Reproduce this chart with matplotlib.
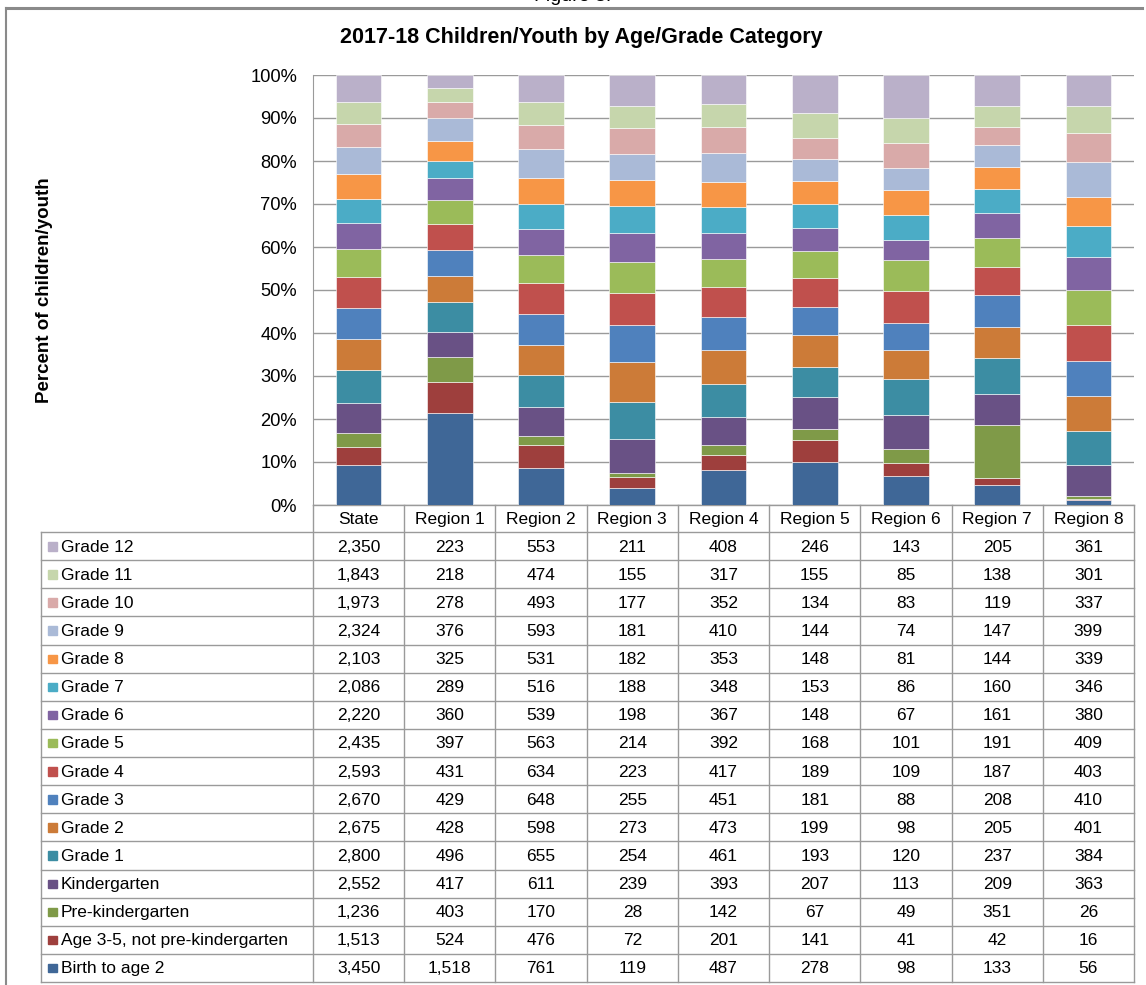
import numpy as np
import matplotlib
matplotlib.use('Agg')
from matplotlib import pyplot as plt
from matplotlib.patches import Rectangle

plt.rcParams['font.family'] = ['Liberation Sans', 'DejaVu Sans']

# Categories, bottom of the stack first
categories = ['Birth to age 2', 'Age 3-5, not pre-kindergarten', 'Pre-kindergarten',
              'Kindergarten', 'Grade 1', 'Grade 2', 'Grade 3', 'Grade 4', 'Grade 5',
              'Grade 6', 'Grade 7', 'Grade 8', 'Grade 9', 'Grade 10', 'Grade 11', 'Grade 12']
columns = ['State', 'Region 1', 'Region 2', 'Region 3', 'Region 4',
           'Region 5', 'Region 6', 'Region 7', 'Region 8']

# Counts per column, same order as categories
state = [3450, 1513, 1236, 2552, 2800, 2675, 2670, 2593, 2435, 2220, 2086, 2103, 2324, 1973, 1843, 2350]
region1 = [1518, 524, 403, 417, 496, 428, 429, 431, 397, 360, 289, 325, 376, 278, 218, 223]
region2 = [761, 476, 170, 611, 655, 598, 648, 634, 563, 539, 516, 531, 593, 493, 474, 553]
region3 = [119, 72, 28, 239, 254, 273, 255, 223, 214, 198, 188, 182, 181, 177, 155, 211]
region4 = [487, 201, 142, 393, 461, 473, 451, 417, 392, 367, 348, 353, 410, 352, 317, 408]
region5 = [278, 141, 67, 207, 193, 199, 181, 189, 168, 148, 153, 148, 144, 134, 155, 246]
region6 = [98, 41, 49, 113, 120, 98, 88, 109, 101, 67, 86, 81, 74, 83, 85, 143]
region7 = [133, 42, 351, 209, 237, 205, 208, 187, 191, 161, 160, 144, 147, 119, 138, 205]
region8 = [56, 16, 26, 363, 384, 401, 410, 403, 409, 380, 346, 339, 399, 337, 301, 361]

colors = ['#3F6797', '#9E3F3D', '#7F9A48', '#695185', '#3C8DA3', '#CC7B38',
          '#4F81BD', '#C0504D', '#9BBB59', '#8064A2', '#4BACC6', '#F79646',
          '#AABAD7', '#D9AAA9', '#C6D6AC', '#BAB0C9']

counts = np.array([state, region1, region2, region3, region4,
                   region5, region6, region7, region8]).T
shares = counts / counts.sum(axis=0)

W, H = 1146, 985
fig = plt.figure(figsize=(W / 100, H / 100), dpi=100)

# overlay in pixel units for frame, title and the data table
bg = fig.add_axes([0, 0, 1, 1])
bg.set_xlim(0, W)
bg.set_ylim(H, 0)
bg.axis('off')

grid_c = '#9a9a9a'
bg.plot([6, 1142], [8, 8], color='#8a8a8a', lw=2.2)
bg.plot([6, 6], [8, H], color='#8a8a8a', lw=1.5)
bg.text(573, 5, 'Figure 3.', ha='center', va='bottom', fontsize=14)
bg.text(581, 38, '2017-18 Children/Youth by Age/Grade Category', ha='center', va='center',
        fontsize=15.5, fontweight='bold')
bg.text(45, 290, 'Percent of children/youth', rotation=90, ha='center', va='center',
        fontsize=13.5, fontweight='bold')

# chart area
x0, x1, ytop, ybot = 313, 1134, 75, 505
ax = fig.add_axes([x0 / W, 1 - ybot / H, (x1 - x0) / W, (ybot - ytop) / H])
xpos = np.arange(len(columns))
bottom = np.zeros(len(columns))
for i, cat in enumerate(categories):
    ax.bar(xpos, shares[i], 0.5, bottom=bottom, color=colors[i],
           edgecolor='white', linewidth=0.4, zorder=3)
    bottom += shares[i]
ax.set_xlim(-0.5, len(columns) - 0.5)
ax.set_ylim(0, 1)
ax.set_yticks(np.arange(0, 1.01, 0.1))
ax.set_yticklabels([f'{int(round(t * 100))}%' for t in np.arange(0, 1.01, 0.1)], fontsize=13.2)
ax.tick_params(axis='y', length=0, pad=11.5)
ax.set_xticks([])
ax.grid(axis='y', color=grid_c, lw=1, zorder=0)
for s in ['top', 'right', 'bottom']:
    ax.spines[s].set_visible(False)
ax.spines['left'].set_color(grid_c)
ax.patch.set_alpha(0)

# data table
colw = (x1 - x0) / len(columns)
tleft = 41
hdr_bot = 532
rowh = (982 - hdr_bot) / len(categories)
lc = dict(color=grid_c, lw=1)
fs = 12.5

bg.plot([x0, x1], [ybot, ybot], **lc)
for j in range(len(columns) + 1):
    xx = x0 + j * colw
    bg.plot([xx, xx], [ybot, 982], **lc)
bg.plot([tleft, tleft], [hdr_bot, 982], **lc)
for k in range(len(categories) + 1):
    yy = hdr_bot + k * rowh
    bg.plot([tleft, x1], [yy, yy], **lc)

for j, name in enumerate(columns):
    bg.text(x0 + (j + 0.5) * colw, (ybot + hdr_bot) / 2 + 1, name,
            ha='center', va='center', fontsize=fs)

for k in range(len(categories)):
    i = len(categories) - 1 - k
    yc = hdr_bot + (k + 0.5) * rowh
    bg.add_patch(Rectangle((48, yc - 4), 8.5, 8.5, color=colors[i]))
    bg.text(61, yc + 1, categories[i], ha='left', va='center', fontsize=fs)
    for j in range(len(columns)):
        bg.text(x0 + (j + 0.5) * colw, yc + 1, f'{counts[i, j]:,}',
                ha='center', va='center', fontsize=fs)

fig.savefig('out.png', dpi=100)
